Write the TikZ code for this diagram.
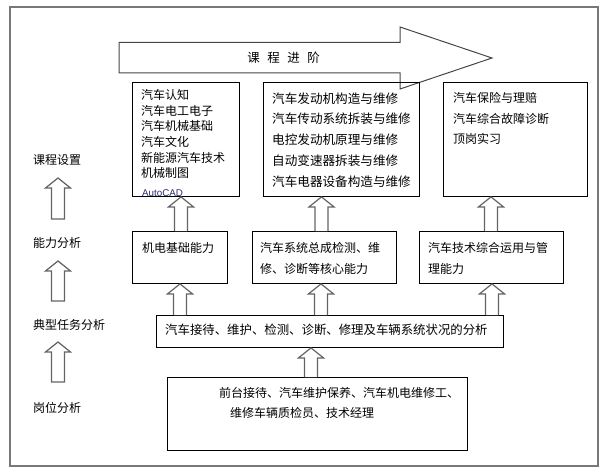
\documentclass[tikz,border=0pt]{standalone}
\usepackage{fontspec}
\setmainfont{Noto Sans CJK SC}
\newfontfamily\latinfont{Liberation Sans}
\usetikzlibrary{calc}
\definecolor{framegray}{RGB}{120,120,120}
\definecolor{arrgray}{RGB}{100,100,100}
\definecolor{bigarr}{RGB}{70,70,70}
\definecolor{cadblue}{RGB}{40,40,110}
\tikzset{
  box/.style={draw=black, line width=0.9pt, inner sep=0pt, anchor=north west},
  txt/.style={anchor=base west, inner sep=0pt, font=\fontsize{12}{14}\selectfont},
  txtb/.style={anchor=base west, inner sep=0pt, font=\fontsize{12.6}{14}\selectfont},
  harrow/.style={draw=arrgray, line width=1.2pt, fill=white, line join=miter},
}
% hollow upward arrow: #1 = bottom-centre point, #2 = tip point, #3 = extra path end
\newcommand{\hollowup}[3]{%
  \draw[harrow] let \p1=#1, \p2=#2 in
    (\x1-6.5pt,\y1) -- (\x1-6.5pt,\y2-10pt) -- (\x1-12.5pt,\y2-10pt) -- (\x1,\y2)
    -- (\x1+12.5pt,\y2-10pt) -- (\x1+6.5pt,\y2-10pt) -- (\x1+6.5pt,\y1) #3;}
\begin{document}
\begin{tikzpicture}[x=1pt,y=-1pt]
\useasboundingbox (0,0) rectangle (604,473);
% outer frame
\draw[draw=framegray, line width=1.3pt] (10,7) rectangle (598,466);

% big arrow
\draw[draw=bigarr, line width=1pt, line join=miter]
  (119,42.5) -- (400,42.5) -- (400,27) -- (492,58) -- (400,89) -- (400,73) -- (119,73) -- cycle;
\node[anchor=center, inner sep=0pt, font=\fontsize{12.5}{14}\selectfont] (jinjie) at (283.5,58)
  {课\hspace{7.5pt}程\hspace{7.5pt}进\hspace{7.5pt}阶};

% course boxes
\node[box, minimum width=107, minimum height=114] (c1) at (132,82) {};
\node[box, minimum width=156, minimum height=114] (c2) at (263,82) {};
\node[box, minimum width=144, minimum height=114] (c3) at (443,82) {};

\node[txt] (c1a) at (141,100) {汽车认知};
\node[txt] (c1b) at (141,115.5) {汽车电工电子};
\node[txt] (c1c) at (141,131) {汽车机械基础};
\node[txt] (c1d) at (141,146.5) {汽车文化};
\node[txt] (c1e) at (141,162) {新能源汽车技术};
\node[txt] (c1f) at (141,177.5) {机械制图};
\begin{scope}
\clip (132,82) rectangle (239,195.5);
\node[anchor=base west, inner sep=0pt, text=cadblue, font=\latinfont\fontsize{9.8}{11}\selectfont] (c1g) at (142,196.8) {AutoCAD};
\end{scope}

\node[txtb] (c2a) at (272,103.2) {汽车发动机构造与维修};
\node[txtb] (c2b) at (272,124) {汽车传动系统拆装与维修};
\node[txtb] (c2c) at (272,144.8) {电控发动机原理与维修};
\node[txtb] (c2d) at (272,165.6) {自动变速器拆装与维修};
\node[txtb] (c2e) at (272,186.4) {汽车电器设备构造与维修};

\node[txt] (c3a) at (453,103) {汽车保险与理赔};
\node[txt] (c3b) at (453,123.5) {汽车综合故障诊断};
\node[txt] (c3c) at (453,144) {顶岗实习};

% ability boxes
\node[box, minimum width=95, minimum height=52] (a1) at (132,231) {};
\node[box, minimum width=144, minimum height=52] (a2) at (252,231) {};
\node[box, minimum width=144, minimum height=52] (a3) at (419,231) {};

\node[txt] (a1t) at (142,252.5) {机电基础能力};
\node[txt] (a2t) at (260,252.5) {汽车系统总成检测、维};
\node[txt] (a2u) at (260,273.5) {修、诊断等核心能力};
\node[txt] (a3t) at (428,252.5) {汽车技术综合运用与管};
\node[txt] (a3u) at (428,273.5) {理能力};

% task box
\node[box, minimum width=347, minimum height=32] (task) at (156,315) {};
\node[anchor=base west, inner sep=0pt, font=\fontsize{12.4}{14}\selectfont] (taskt) at (165,334.6)
  {汽车接待、维护、检测、诊断、修理及车辆系统状况的分析};

% position box
\node[box, minimum width=300, minimum height=73] (pos) at (167,377) {};
\node[txt] (post) at (219,397.5) {前台接待、汽车维护保养、汽车机电维修工、};
\node[txt] (posu) at (230,417.5) {维修车辆质检员、技术经理};

% left column labels
\node[txt] (l1) at (33,164.5) {课程设置};
\node[txt] (l2) at (33,247.5) {能力分析};
\node[txt] (l3) at (33,329.5) {典型任务分析};
\node[txt] (l4) at (33,412.5) {岗位分析};

\coordinate (l1tip) at (58,178);
\coordinate (l1bot) at (58,219);
\coordinate (l2tip) at (58,261);
\coordinate (l2bot) at (58,301);
\coordinate (l3tip) at (58,342);
\coordinate (l3bot) at (58,382);
\hollowup{(l1bot)}{(l1tip)}{-- cycle}
\hollowup{(l2bot)}{(l2tip)}{-- cycle}
\hollowup{(l3bot)}{(l3tip)}{-- cycle}

% connectors between boxes
\hollowup{(181,0 |- a1.north)}{(181,0 |- c1.south)}{}
\hollowup{(321.5,0 |- a2.north)}{(321.5,0 |- c2.south)}{}
\hollowup{(491,0 |- a3.north)}{(491,0 |- c3.south)}{}
\hollowup{(180,0 |- task.north)}{(180,0 |- a1.south)}{}
\hollowup{(321,0 |- task.north)}{(321,0 |- a2.south)}{}
\hollowup{(492,0 |- task.north)}{(492,0 |- a3.south)}{}
\hollowup{(311,0 |- pos.north)}{(311,0 |- task.south)}{}
\end{tikzpicture}
\end{document}
